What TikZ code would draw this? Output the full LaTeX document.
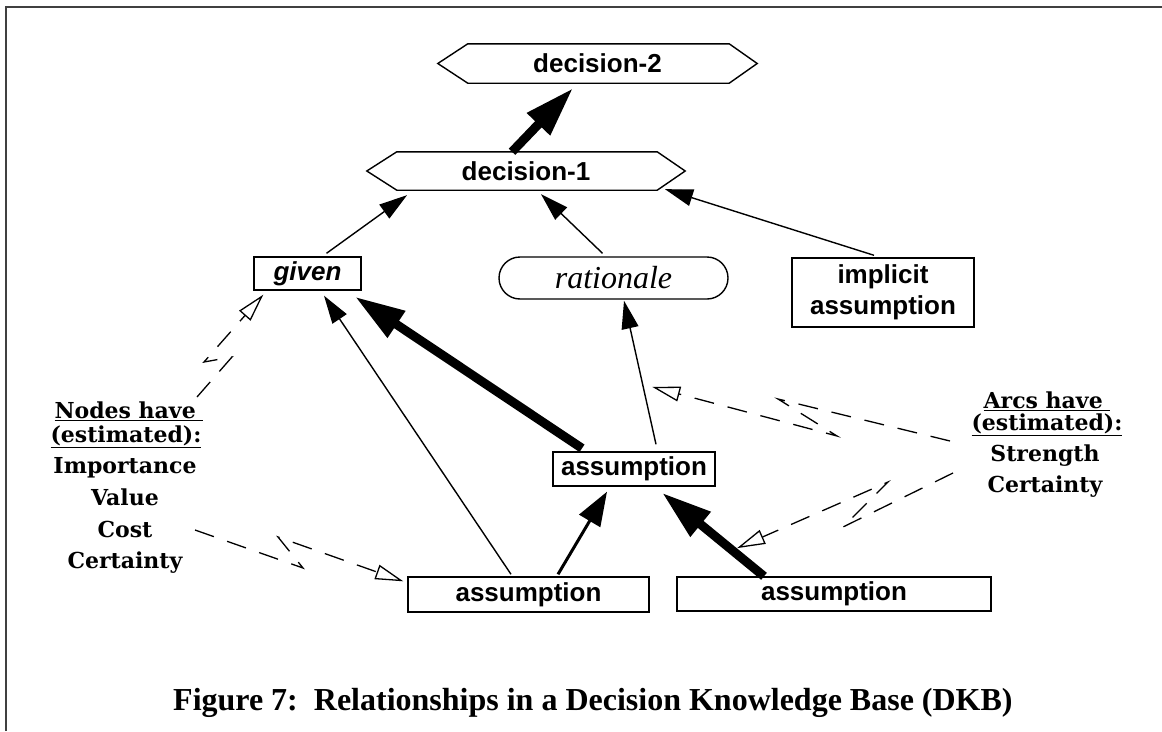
\documentclass[tikz,border=0pt]{standalone}
\usepackage{fontspec}
\newfontfamily\nodefont{Liberation Sans}
\newfontfamily\capfont{Liberation Serif}
\newfontfamily\notefont{DejaVu Serif}
\usetikzlibrary{arrows.meta,calc}

\begin{document}
\frenchspacing
\begin{tikzpicture}[x=1pt,y=-1pt,
  outline/.style={draw=black,line width=1.4pt,line join=miter},
  box/.style={outline,inner sep=0pt,align=center,
    font={\nodefont\bfseries\fontsize{26}{31}\selectfont}},
  hexbox/.style={inner sep=0pt,
    font={\nodefont\bfseries\fontsize{26}{31}\selectfont}},
  lbl/.style={inner sep=0pt,anchor=base,
    font={\notefont\bfseries\fontsize{22}{26}\selectfont}},
  thinarrow/.style={line width=1.4pt,-{Triangle[length=28pt,width=17pt]}},
  midarrow/.style={line width=3pt,-{Triangle[length=34pt,width=24pt]}},
  heavyarrow/.style={line width=9pt,-{Triangle[length=50pt,width=30pt]}},
  hint/.style={line width=1.3pt,dash pattern=on 20pt off 14pt,
    -{Triangle[open,length=28pt,width=15pt]}},
  framestyle/.style={draw=black!75,line width=1.5pt}
]
\useasboundingbox (0,0) rectangle (1162,731);

% page frame (top and left rules)
\draw[framestyle] (6,731) -- (6,7) -- (1162,7);

% decision nodes (hexagons)
\node[hexbox,minimum width=319pt,minimum height=39pt] (d2) at (597.5,63.5) {decision-2};
\draw[outline] (d2.west) -- ($(d2.north west)+(30,0)$) -- ($(d2.north east)+(-28,0)$)
  -- (d2.east) -- ($(d2.south east)+(-28,0)$) -- ($(d2.south west)+(30,0)$) -- cycle;
\node[hexbox,minimum width=318pt,minimum height=38pt] (d1) at (526,171) {decision-1};
\draw[outline] (d1.west) -- ($(d1.north west)+(30,0)$) -- ($(d1.north east)+(-28,0)$)
  -- (d1.east) -- ($(d1.south east)+(-28,0)$) -- ($(d1.south west)+(30,0)$) -- cycle;

% supporting nodes
\node[box,minimum width=107pt,minimum height=33pt] (given) at (307.5,273.5) {\itshape given};
\node[box,minimum width=229pt,minimum height=42pt,rounded corners=21pt,
  font={\capfont\itshape\fontsize{32}{36}\selectfont}] (rationale) at (613.5,278) {rationale};
\node[box,minimum width=182pt,minimum height=69pt] (implicit) at (883,292.5) {implicit\\assumption};
\node[box,minimum width=162pt,minimum height=34pt] (mid) at (634,469) {assumption};
\node[box,minimum width=241pt,minimum height=35pt] (bl) at (528.5,594.5) {assumption};
\node[box,minimum width=314pt,minimum height=34pt] (br) at (834,594) {assumption};

% relationships
\draw[heavyarrow] ($(d1.north)+(-14,0)$) -- ($(d2.south)+(-24.5,5)$);
\draw[thinarrow] ($(given.north)+(19,-3)$) -- ($(d1.south)+(-119,5)$);
\draw[thinarrow] ($(rationale.north)+(-11,-3)$) -- ($(d1.south)+(15,4)$);
\draw[thinarrow] ($(implicit.north)+(-9,-2)$) -- ($(d1.south)+(139,-1)$);
\draw[thinarrow] ($(mid.north)+(22,-7)$) -- coordinate[pos=0.4] (mrpt) ($(rationale.south)+(10.5,1)$);
\draw[heavyarrow] ($(mid.north)+(-52,-3)$) -- ($(given.south)+(47.5,6)$);
\draw[thinarrow] ($(bl.north)+(-17.5,-2)$) -- ($(given.south)+(16.5,5)$);
\draw[midarrow] ($(bl.north)+(29.5,-2)$) -- ($(mid.south)+(-27,5)$);
\draw[heavyarrow] ($(br.north)+(-70,0)$) -- coordinate[pos=0.337] (brpt) ($(mid.south)+(28,6)$);

% annotation: node properties
\node[lbl] (nh) at (129,418) {\underline{Nodes have\ }};
\node[lbl] (ne) at (126,442) {\underline{(estimated):}};
\node[lbl] (n1) at (125,473) {Importance};
\node[lbl] (n2) at (125,505) {Value};
\node[lbl] (n3) at (125,537) {Cost};
\node[lbl] (n4) at (125,568) {Certainty};

% annotation: arc properties
\node[lbl] (ah) at (1047,408) {\underline{Arcs have\ }};
\node[lbl] (ae) at (1047,430) {\underline{(estimated):}};
\node[lbl] (a1) at (1045,461) {Strength};
\node[lbl] (a2) at (1045,492) {Certainty};

% broken pointer lines from the annotations
\coordinate (pA0) at (197,397);
\coordinate (pA1) at (232,357);
\coordinate (pA2) at (204,362);
\draw[hint] (pA0) -- (pA1) -- (pA2) -- ($(given.south west)+(10,4)$);

\coordinate (pB0) at (195,530);
\coordinate (pB1) at (303,568);
\coordinate (pB2) at (278,537);
\draw[hint] (pB0) -- (pB1) -- (pB2) -- ($(bl.north west)+(-4,5)$);

\coordinate (pC0) at (950,441);
\coordinate (pC1) at (778,399);
\coordinate (pC2) at (837,436);
\draw[hint] (pC0) -- (pC1) -- (pC2) -- ($(mrpt)+(9,0)$);

\coordinate (pD0) at (953,473);
\coordinate (pD1) at (843,527);
\coordinate (pD2) at (888,482);
\draw[hint] (pD0) -- (pD1) -- (pD2) -- ($(brpt)+(7.5,0)$);

% caption
\node[inner sep=0pt,anchor=base west,font={\capfont\bfseries\fontsize{32}{36}\selectfont}]
  (caption) at (173,710) {Figure 7:\ \ Relationships in a Decision Knowledge Base (DKB)};
\end{tikzpicture}
\end{document}
